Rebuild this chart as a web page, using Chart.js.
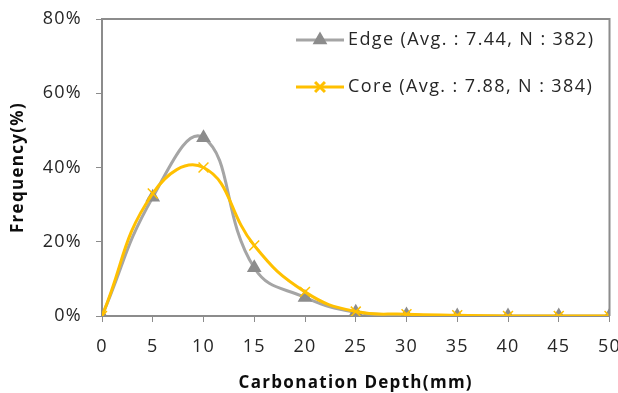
<!DOCTYPE html>
<html>
<head>
<meta charset="utf-8">
<script src="https://cdn.jsdelivr.net/npm/chart.js@4.4.1/dist/chart.umd.min.js"></script>
<style>
  html, body { margin: 0; padding: 0; background: #fff; }
  #wrap { width: 618px; height: 393px; }
</style>
</head>
<body>
<div id="wrap"><canvas id="chart" width="618" height="393"></canvas></div>
<script>
// chart data
const depths = [0, 5, 10, 15, 20, 25, 30, 35, 40, 45, 50];
const edgeValues = [0, 32, 48, 13, 5, 1, 0.3, 0, 0, 0, 0];
const coreValues = [0, 33, 40, 19, 6.5, 1.2, 0.5, 0.2, 0, 0, 0];
const seriesLabels = ['Edge (Avg. : 7.44, N : 382)', 'Core (Avg. : 7.88, N : 384)'];
const yTicks = [0, 20, 40, 60, 80];

const FONT = '"Open Sans", Lato, sans-serif';
const AXIS_GREY = '#8c8c8c';

function toPoints(vals) {
    return depths.map((d, i) => ({ x: d, y: vals[i] }));
}

// wider letter spacing, closer to the Excel rendering
const spacingPlugin = {
    id: 'spacing',
    beforeDraw(chart) {
        chart.ctx.letterSpacing = '1.3px';
    }
};

// frame on top/right + legend drawn inside the plot area
const framePlugin = {
    id: 'frame',
    afterDraw(chart) {
        const { ctx, chartArea: a } = chart;
        ctx.save();
        ctx.strokeStyle = AXIS_GREY;
        ctx.lineWidth = 2;
        ctx.beginPath();
        ctx.moveTo(a.left, a.top);
        ctx.lineTo(a.right, a.top);
        ctx.lineTo(a.right, a.bottom);
        ctx.stroke();

        // legend
        const rows = [40, 87];
        chart.data.datasets.forEach((ds, i) => {
            const y = rows[i];
            ctx.strokeStyle = ds.borderColor;
            ctx.lineWidth = 3;
            ctx.beginPath();
            ctx.moveTo(296, y);
            ctx.lineTo(344, y);
            ctx.stroke();
            ctx.fillStyle = ds.pointBackgroundColor;
            ctx.strokeStyle = ds.pointBorderColor;
            Chart.helpers.drawPoint(ctx, {
                pointStyle: ds.pointStyle,
                radius: ds.pointRadius,
                borderWidth: 1.5,
                rotation: 0
            }, 320, y);
            ctx.fillStyle = '#262626';
            ctx.font = '18px ' + FONT;
            ctx.letterSpacing = '1.4px';
            ctx.textAlign = 'left';
            ctx.textBaseline = 'middle';
            ctx.fillText(ds.label, 348, y);
        });
        ctx.restore();
    }
};

new Chart(document.getElementById('chart'), {
    type: 'line',
    data: {
        datasets: [{
            label: seriesLabels[0],
            data: toPoints(edgeValues),
            borderColor: '#a5a5a5',
            borderWidth: 3,
            pointStyle: 'triangle',
            pointRadius: 5.5,
            pointBackgroundColor: '#8c8c8c',
            pointBorderColor: '#8c8c8c',
            tension: 0.45,
            order: 2
        }, {
            label: seriesLabels[1],
            data: toPoints(coreValues),
            borderColor: '#ffc000',
            borderWidth: 3,
            pointStyle: 'crossRot',
            pointRadius: 7,
            pointBorderWidth: 1.5,
            pointBackgroundColor: '#ffc000',
            pointBorderColor: '#ffc000',
            tension: 0.45,
            order: 1
        }]
    },
    options: {
        responsive: false,
        animation: false,
        layout: { padding: { top: 19, right: 8, left: 8, bottom: 0 } },
        plugins: {
            legend: { display: false },
            tooltip: { enabled: false }
        },
        scales: {
            x: {
                type: 'linear',
                min: 0,
                max: 50,
                afterBuildTicks: (scale) => { scale.ticks = depths.map(v => ({ value: v })); },
                afterFit: (scale) => {
                    scale.height = 77;
                    scale.paddingLeft = 0;
                    scale.paddingRight = 0;
                },
                border: { color: AXIS_GREY, width: 2 },
                grid: { drawOnChartArea: false, color: AXIS_GREY, tickLength: 6, lineWidth: 1 },
                ticks: { color: '#262626', font: { family: FONT, size: 18 }, padding: 14, maxRotation: 0 },
                title: {
                    display: true,
                    text: 'Carbonation Depth(mm)',
                    color: '#0d0d0d',
                    font: { family: FONT, size: 17, weight: 'bold' },
                    padding: { top: 2, bottom: 0 }
                }
            },
            y: {
                min: 0,
                max: 80,
                afterBuildTicks: (scale) => { scale.ticks = yTicks.map(v => ({ value: v })); },
                afterFit: (scale) => {
                    scale.width = 94;
                    scale.paddingTop = 0;
                    scale.paddingBottom = 0;
                },
                border: { color: AXIS_GREY, width: 2 },
                grid: { drawOnChartArea: false, color: AXIS_GREY, tickLength: 6, lineWidth: 1 },
                ticks: {
                    color: '#262626',
                    font: { family: FONT, size: 18 },
                    padding: 14,
                    callback: (v) => v + '%'
                },
                title: {
                    display: true,
                    text: 'Frequency(%)',
                    color: '#0d0d0d',
                    font: { family: FONT, size: 17, weight: 'bold' },
                    padding: { top: 0, bottom: 2 }
                }
            }
        }
    },
    plugins: [spacingPlugin, framePlugin]
});
</script>
</body>
</html>
